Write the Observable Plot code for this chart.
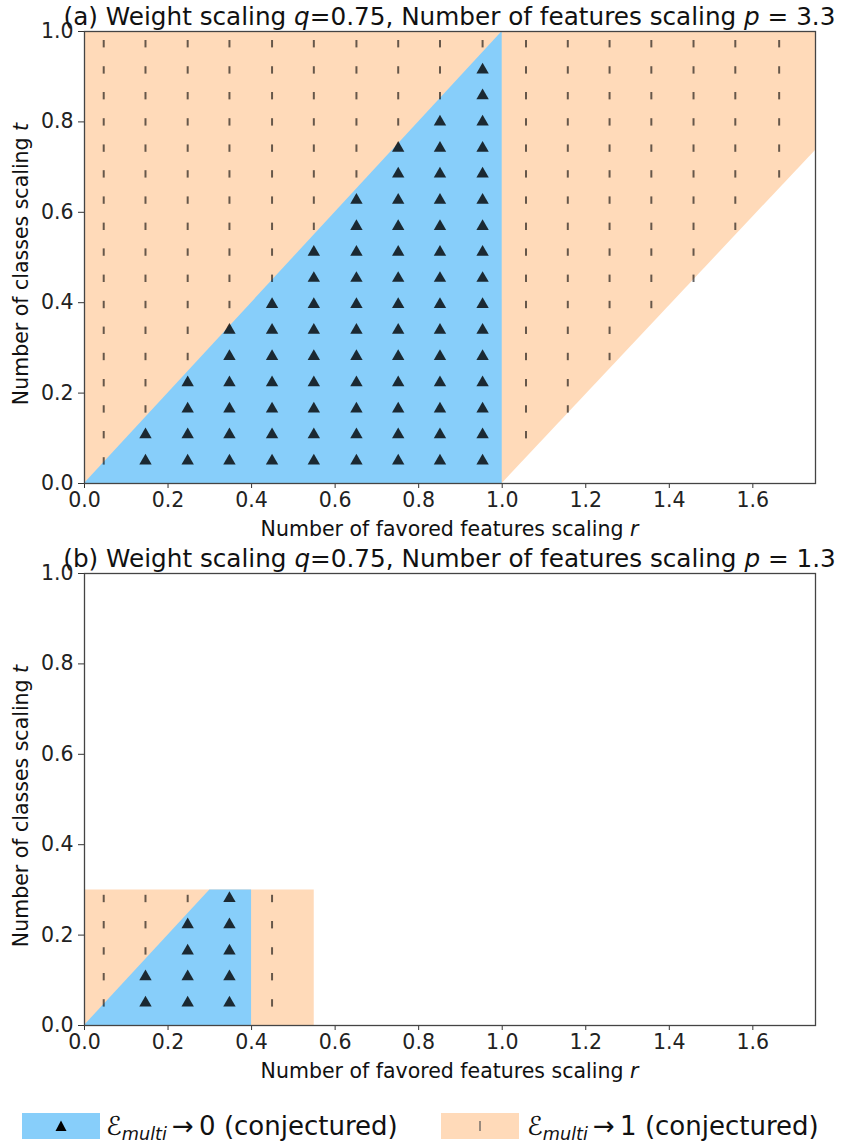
<!DOCTYPE html>
<html>
<head>
<meta charset="utf-8">
<script src="https://cdn.jsdelivr.net/npm/d3@7"></script>
<script src="https://cdn.jsdelivr.net/npm/@observablehq/plot@0.6"></script>
<style>
  html, body { margin: 0; padding: 0; background: white; }
  #chart { position: relative; width: 844px; height: 1145px; font-family: "DejaVu Sans", sans-serif; color: #222; }
  #chart svg { position: absolute; left: 0; }
  .leg-sw { position: absolute; width: 78px; height: 26px; }
  .leg-tx { position: absolute; font-size: 26px; line-height: 26px; white-space: nowrap; color: #111; }
  .leg-tx sub { font-size: 0.68em; font-style: italic; vertical-align: -0.28em; line-height: 0; }
</style>
</head>
<body>
<div id="chart"></div>
<script>
// ---------- data ----------
const xTicks = [0, 0.2, 0.4, 0.6, 0.8, 1.0, 1.2, 1.4, 1.6];
const yTicks = [0, 0.2, 0.4, 0.6, 0.8, 1.0];

// grid of simulated (r, t) points
const rGrid = [0.046, 0.146, 0.247, 0.347, 0.449, 0.549, 0.651, 0.751, 0.851, 0.953, 1.057, 1.157, 1.257, 1.357, 1.458, 1.558, 1.663];
const tGrid = [0.050, 0.108, 0.165, 0.223, 0.281, 0.339, 0.396, 0.454, 0.512, 0.569, 0.627, 0.685, 0.742, 0.800, 0.858, 0.915, 0.973];

// panel (a): per column, number of rows (from bottom) with triangles, first row with a tick
const aTriCount = [0, 2, 4, 6, 7, 9, 11, 13, 14, 16, 0, 0, 0, 0, 0, 0, 0];
const aTickFrom = [0, 2, 4, 6, 7, 9, 11, 13, 14, 16, 1, 2, 4, 6, 7, 9, 11];
const aRows = 17;
// panel (b)
const bTriCount = [0, 2, 4, 5, 0];
const bTickFrom = [0, 2, 4, 5, 0];
const bRows = 5;

// regions (r, lower t, upper t)
const aOrangeR = [0, 1, 1.75], aOrangeLo = [0, 0, 0.737], aOrangeHi = [1, 1, 1];
const aBlueR = [0, 1], aBlueLo = [0, 0], aBlueHi = [0, 1];
const bOrangeR = [0, 0.55], bOrangeLo = [0, 0], bOrangeHi = [0.3, 0.3];
const bBlueR = [0, 0.3, 0.4], bBlueLo = [0, 0, 0], bBlueHi = [0, 0.3, 0.3];

const titleA = ["(a) Weight scaling ", ["q"], "=0.75, Number of features scaling ", ["p"], " = 3.3"];
const titleB = ["(b) Weight scaling ", ["q"], "=0.75, Number of features scaling ", ["p"], " = 1.3"];
const xLabel = ["Number of favored features scaling ", ["r"]];
const yLabel = ["Number of classes scaling ", ["t"]];

const BLUE = "#87CEFA", ORANGE = "#FFDAB9";

// ---------- helpers ----------
const zipRegion = (R, lo, hi) => R.map((r, i) => ({r, lo: lo[i], hi: hi[i]}));
function cells(triCount, tickFrom, rows) {
  const tri = [], tick = [];
  for (let i = 0; i < triCount.length; i++) {
    for (let j = 0; j < rows; j++) {
      const p = {r: rGrid[i], t: tGrid[j]};
      if (j < triCount[i]) tri.push(p);
      else if (j >= tickFrom[i]) tick.push(p);
    }
  }
  return {tri, tick};
}
const vbar = { draw(ctx, size) { const h = Math.sqrt(size / Math.PI); ctx.moveTo(0, -h); ctx.lineTo(0, h); } };

function addText(svg, parts, attrs) {
  const t = d3.select(svg).append("text");
  for (const [k, v] of Object.entries(attrs)) t.attr(k, v);
  for (const p of parts) {
    const s = t.append("tspan").text(Array.isArray(p) ? p[0] : p);
    if (Array.isArray(p)) s.attr("font-style", "italic");
  }
  return t;
}

const W = 844, H = 542, ML = 84, MR = 29, MT = 31, MB = 59;

function panel(orange, blue, pts, title, top) {
  const svg = Plot.plot({
    width: W, height: H,
    marginLeft: ML, marginRight: MR, marginTop: MT, marginBottom: MB,
    style: {fontFamily: "DejaVu Sans", fontSize: "20.5px", color: "#222", background: "transparent", overflow: "visible"},
    x: {domain: [0, 1.75]},
    y: {domain: [0, 1]},
    marks: [
      Plot.areaY(orange, {x: "r", y1: "lo", y2: "hi", fill: ORANGE, curve: "linear"}),
      Plot.areaY(blue, {x: "r", y1: "lo", y2: "hi", fill: BLUE, curve: "linear"}),
      Plot.dot(pts.tick, {x: "r", y: "t", symbol: vbar, r: 3.7, fill: "none", stroke: "black", strokeOpacity: 0.6, strokeWidth: 2}),
      Plot.dot(pts.tri, {x: "r", y: "t", symbol: "triangle", r: 4.6, fill: "black", fillOpacity: 0.8, stroke: "none"}),
      Plot.axisX({ticks: xTicks, tickFormat: d3.format(".1f"), tickSize: 5, tickPadding: 4, label: null, stroke: "#333"}),
      Plot.axisY({ticks: yTicks, tickFormat: d3.format(".1f"), tickSize: 6, tickPadding: 5, label: null, stroke: "#333"}),
      Plot.frame({stroke: "#444", strokeWidth: 1.3})
    ]
  });
  svg.style.top = top + "px";
  const cx = (ML + (W - MR)) / 2;
  addText(svg, title, {x: cx, y: 25, "text-anchor": "middle", "font-size": "24.7px", fill: "#111"});
  addText(svg, xLabel, {x: cx, y: H - MB + 53, "text-anchor": "middle", "font-size": "20.5px", fill: "#111"});
  const cy = (MT + (H - MB)) / 2 + 7;
  addText(svg, yLabel, {x: 27.5, y: cy, "text-anchor": "middle", "font-size": "20.5px", fill: "#111",
    transform: `rotate(-90, 27.5, ${cy})`});
  return svg;
}

const chart = document.getElementById("chart");
chart.appendChild(panel(zipRegion(aOrangeR, aOrangeLo, aOrangeHi), zipRegion(aBlueR, aBlueLo, aBlueHi),
  cells(aTriCount, aTickFrom, aRows), titleA, 0));
chart.appendChild(panel(zipRegion(bOrangeR, bOrangeLo, bOrangeHi), zipRegion(bBlueR, bBlueLo, bBlueHi),
  cells(bTriCount, bTickFrom, bRows), titleB, 542));

// ---------- legend ----------
const legend = document.createElement("div");
legend.innerHTML = `
  <div class="leg-sw" style="left:22px;top:1113px;background:${BLUE}">
    <svg width="78" height="26" style="position:absolute;left:0;top:0"><path d="M39,7.5 L44.5,18 L33.5,18 Z" fill="black"/></svg>
  </div>
  <div class="leg-tx" style="left:106px;top:1113px"><span style="font-style:italic">ℰ</span><sub>multi</sub>&#8201;→&#8201;0 (conjectured)</div>
  <div class="leg-sw" style="left:441px;top:1113px;background:${ORANGE}">
    <svg width="78" height="26" style="position:absolute;left:0;top:0"><line x1="39" x2="39" y1="8" y2="18" stroke="#555" stroke-width="1.2"/></svg>
  </div>
  <div class="leg-tx" style="left:527px;top:1113px"><span style="font-style:italic">ℰ</span><sub>multi</sub>&#8201;→&#8201;1 (conjectured)</div>
`;
chart.appendChild(legend);
</script>
</body>
</html>
